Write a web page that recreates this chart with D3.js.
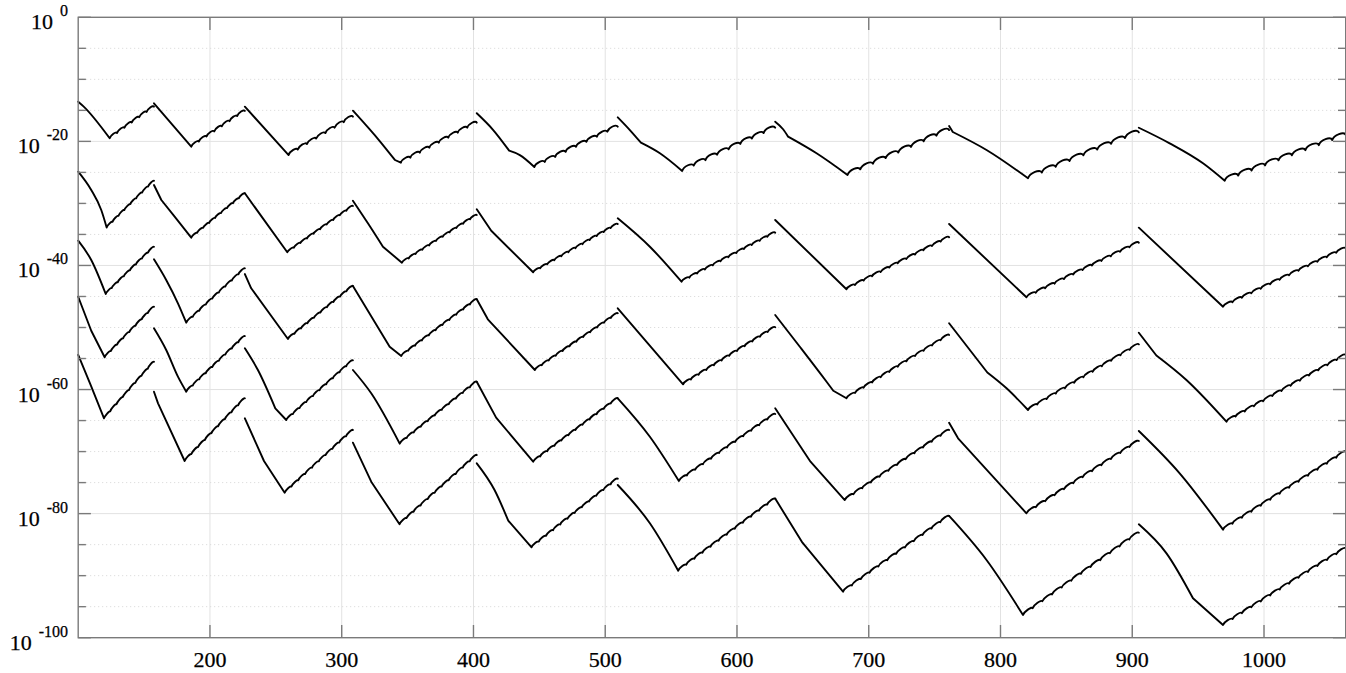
<!DOCTYPE html>
<html><head><meta charset="utf-8">
<script src="https://cdn.jsdelivr.net/npm/d3@7"></script>
<style>body{margin:0;background:#fff}svg{display:block}
text{font-family:"Liberation Serif","Times New Roman",serif;fill:#000;stroke:#000;stroke-width:0.25px}</style>
</head><body><svg id="c" width="1346" height="673"></svg>
<script>
// x positions where each restart segment begins (last value = end of data)
const xBreaks = [100, 157.5, 226.5, 308.5, 402.5, 509.5, 629, 761, 905, 1062];
const xTicks = [200, 300, 400, 500, 600, 700, 800, 900, 1000];
const yMajorExp = [0, -20, -40, -60, -80, -100];
const yMinorExp = [-5,-10,-15,-25,-30,-35,-45,-50,-55,-65,-70,-75,-85,-90,-95];

// each segment: descent points [x, log10(value), kink?] from restart to valley; then exponent at segment end
const series1 = [
  [[[100,-13.60],[104,-14.35],[123.9,-19.50]], -14.41],
  [[[157.5,-13.86],[185.8,-20.86]], -15.10],
  [[[226.5,-14.41],[259.7,-22.20]], -16.02],
  [[[308.5,-15.05],[329.0,-19.99],[340.4,-23.0,1],[344.9,-23.44]], -16.99],
  [[[402.5,-15.47],[415.0,-18.17],[427.1,-21.50,1],[435.2,-22.21],[446.2,-24.13]], -17.63],
  [[[509.5,-16.12],[518.7,-18.17],[527.1,-20.21,1],[541.5,-21.92],[558.4,-24.77]], -17.80],
  [[[629,-16.83],[635.0,-18.05],[638.8,-19.24,1],[660.4,-21.92],[683.9,-25.42]], -18.17],
  [[[761,-17.52],[763.8,-18.49,1],[789.4,-21.39],[820.9,-25.95]], -18.54],
  [[[905,-17.80],[928.4,-20.31],[953.7,-23.53],[970.2,-26.34]], -18.97]
];
const series2 = [
  [[[100,-24.89],[109.9,-27.84],[117.5,-31.06],[121.6,-33.88]], -26.34],
  [[[157.5,-27.03],[163.1,-29.45,1],[173.2,-32.14],[185.8,-35.52]], -28.37],
  [[[226.5,-28.37],[258.7,-37.88]], -30.42],
  [[[308.5,-29.56],[319.9,-33.20],[331.3,-36.98,1],[345.7,-39.56]], -31.87],
  [[[402.5,-30.95],[413.5,-34.40,1],[445.3,-41.10]], -33.32],
  [[[509.5,-32.40],[533.9,-36.98],[557.9,-42.62]], -34.72],
  [[[629,-32.67],[683.1,-43.84]], -35.46],
  [[[761,-33.32],[819.7,-45.13]], -36.33],
  [[[905,-33.91],[968.9,-46.65]], -37.23]
];
const series3 = [
  [[[100,-36.01],[109.9,-39.12],[120.9,-44.60]], -36.98],
  [[[157.5,-39.01],[166.8,-42.34],[175.7,-46.10],[182.0,-49.23]], -40.46],
  [[[226.5,-41.38],[231.3,-43.68,1],[259.2,-51.86]], -43.31],
  [[[308.5,-43.31],[336.4,-53.10,1],[345.2,-54.59]], -45.45],
  [[[402.5,-45.45],[410.9,-48.68,1],[446.6,-56.85]], -47.71],
  [[[509.5,-46.91],[559.1,-59.16]], -49.97],
  [[[629,-47.99],[647.7,-53.10],[668.0,-58.74],[673.1,-60.19,1],[683.1,-61.41]], -51.21],
  [[[761,-49.32],[790.0,-57.25,1],[804.6,-59.80],[820.9,-63.30]], -52.72],
  [[[905,-50.84],[918.3,-54.51,1],[941.1,-58.46],[971.5,-65.18]], -54.43]
];
const series4 = [
  [[[100,-45.04],[109.9,-50.52,1],[120.1,-54.80]], -46.65],
  [[[157.5,-50.13],[166.8,-53.63],[175.7,-57.93],[182.0,-60.35]], -51.37],
  [[[226.5,-53.35],[236.4,-56.85],[249.6,-63.02,1],[257.9,-64.91]], -55.28],
  [[[308.5,-56.85],[322.4,-60.61],[344.0,-68.72]], -58.74],
  [[[402.5,-58.74],[417.2,-64.52,1],[445.3,-71.63]], -61.41],
  [[[509.5,-61.41],[533.9,-67.60],[555.9,-74.74]], -63.94],
  [[[629,-63.02],[655.8,-71.63,1],[681.8,-77.81]], -66.52],
  [[[761,-65.35],[767.8,-67.86,1],[819.7,-79.95]], -68.30],
  [[[905,-66.68],[936.0,-73.50],[968.9,-82.58]], -70.02]
];
const series5 = [
  [[[100,-54.43],[109.5,-59.27,1],[119.6,-64.64]], -55.51],
  [[[157.5,-60.35],[160.6,-62.22,1],[180.8,-71.52]], -61.41],
  [[[226.5,-64.64],[241.0,-71.52,1],[256.7,-76.63]], -66.52],
  [[[308.5,-68.56],[322.4,-74.85,1],[343.9,-81.72]], -70.55],
  [[[402.5,-71.89],[416.0,-76.19],[426.4,-81.14,1],[444.1,-85.43]], -74.36],
  [[[509.5,-75.39],[533.9,-81.56],[555.4,-89.20]], -77.58],
  [[[629,-77.58],[649.7,-84.69,1],[680.5,-92.59]], -80.38],
  [[[761,-80.38],[789.4,-87.48],[817.1,-96.34]], -83.08],
  [[[905,-81.72],[926.0,-86.40],[946.1,-93.65,1],[968.9,-97.95]], -85.59]
];
// number of ripples on each rising stretch
const rippleTop = [6, 7, 7, 8, 8, 8, 8, 8, 9];
const rippleLower = [8, 9, 10, 11, 12, 12, 12, 12, 13];

const allSeries = [series1, series2, series3, series4, series5];
const ripples = [rippleTop, rippleLower, rippleLower, rippleLower, rippleLower];
const rippleAmp = [0.26, 0.2, 0.2, 0.2, 0.2];

const L = 78.2, R = 1345.7, T = 17.3, B = 637.7;
const svg = d3.select('#c');
const x = d3.scaleLinear().domain([100, 1062]).range([L, R]);
const y = d3.scaleLog().domain([1e-100, 1]).range([B, T]);
const Y = e => y(Math.pow(10, e));

const axisCol = '#7a7a7a';
const g = svg.append('g');
g.append('rect').attr('width', 1346).attr('height', 673).attr('fill', '#fff');

// grid
g.selectAll('.xg').data(xTicks).join('line')
  .attr('x1', d => x(d)).attr('x2', d => x(d)).attr('y1', T).attr('y2', B)
  .attr('stroke', '#e2e2e2').attr('stroke-width', 1);
g.selectAll('.yg').data(yMajorExp.filter(e => e > -100 && e < 0)).join('line')
  .attr('x1', L).attr('x2', R).attr('y1', d => Y(d)).attr('y2', d => Y(d))
  .attr('stroke', '#e2e2e2').attr('stroke-width', 1);
g.selectAll('.ym').data(yMinorExp).join('line')
  .attr('x1', L).attr('x2', R).attr('y1', d => Y(d)).attr('y2', d => Y(d))
  .attr('stroke', '#d6d6d6').attr('stroke-width', 1).attr('stroke-dasharray', '1,3');

// data
const descLine = d3.line().x(d => x(d[0])).y(d => Y(d[1])).curve(d3.curveMonotoneX);
const paths = [];
allSeries.forEach((ser, si) => {
  ser.forEach((seg, i) => {
    const desc = seg[0];
    const pieces = [];
    let cur = [desc[0]];
    for (let k = 1; k < desc.length; k++) {
      cur.push(desc[k]);
      if (desc[k][2] && k < desc.length - 1) { pieces.push(cur); cur = [desc[k]]; }
    }
    pieces.push(cur);
    let p = '';
    pieces.forEach((pc, k) => {
      const s = descLine(pc);
      p += k === 0 ? s : 'L' + s.slice(1);
    });
    const v = desc[desc.length - 1];
    const endPt = [xBreaks[i + 1], seg[1]];
    const x0 = x(v[0]), y0 = Y(v[1]), x1 = x(endPt[0]), y1 = Y(endPt[1]);
    const n = ripples[si][i];
    const w = (x1 - x0) / n;
    const h = rippleAmp[si] * w * 1.333;
    for (let j = 0; j < n; j++) {
      const ax = x0 + (x1 - x0) * j / n, ay = y0 + (y1 - y0) * j / n;
      const bx = x0 + (x1 - x0) * (j + 1) / n, by = y0 + (y1 - y0) * (j + 1) / n;
      const c1x = ax + (bx - ax) * 0.12, c1y = ay + (by - ay) * 0.12 - h;
      const c2x = ax + (bx - ax) * 0.88, c2y = ay + (by - ay) * 0.88 - h;
      p += `C${c1x},${c1y},${c2x},${c2y},${bx},${by}`;
    }
    paths.push(p);
  });
});
g.selectAll('.s').data(paths).join('path')
  .attr('d', d => d).attr('fill', 'none').attr('stroke', '#000')
  .attr('stroke-width', 1.9).attr('stroke-linejoin', 'round').attr('stroke-linecap', 'round');

// box
g.append('rect').attr('x', L).attr('y', T).attr('width', R - L).attr('height', B - T)
  .attr('fill', 'none').attr('stroke', axisCol).attr('stroke-width', 1.4);

// ticks
const tk = g.append('g').attr('stroke', axisCol).attr('stroke-width', 1.4);
tk.selectAll('.xb').data(xTicks).join('line')
  .attr('x1', d => x(d)).attr('x2', d => x(d)).attr('y1', B).attr('y2', B - 12.7);
tk.selectAll('.xt').data(xTicks).join('line')
  .attr('x1', d => x(d)).attr('x2', d => x(d)).attr('y1', T).attr('y2', T + 12.7);
tk.selectAll('.yl').data(yMajorExp).join('line')
  .attr('x1', L).attr('x2', L + 12.7).attr('y1', d => Y(d)).attr('y2', d => Y(d));
tk.selectAll('.yr').data(yMajorExp).join('line')
  .attr('x1', R).attr('x2', R - 12.7).attr('y1', d => Y(d)).attr('y2', d => Y(d));
tk.selectAll('.yml').data(yMinorExp).join('line')
  .attr('x1', L).attr('x2', L + 7.7).attr('y1', d => Y(d)).attr('y2', d => Y(d));
tk.selectAll('.ymr').data(yMinorExp).join('line')
  .attr('x1', R).attr('x2', R - 7.7).attr('y1', d => Y(d)).attr('y2', d => Y(d));

// labels
g.selectAll('.xl').data(xTicks).join('text')
  .attr('x', d => x(d)).attr('y', B + 29.5).attr('text-anchor', 'middle')
  .style('font-size', '22px')
  .text(d => d);
const yl = g.selectAll('.ylab').data(yMajorExp).join('text')
  .attr('x', 68).attr('y', d => Y(d) + 12).attr('text-anchor', 'end');
yl.append('tspan').style('font-size', '22px').text('10');
yl.append('tspan').style('font-size', '16px').attr('dx', 7).attr('dy', -13).text(d => d === 0 ? '0' : String(d));
</script></body></html>
